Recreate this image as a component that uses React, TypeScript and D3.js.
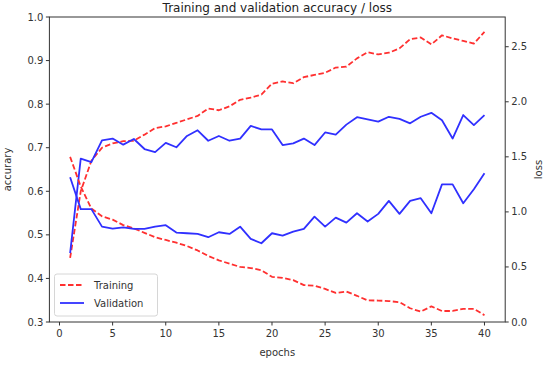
import React from 'react';
import * as d3 from 'd3';

const epochs = d3.range(1, 41);

const trainAcc = [0.447, 0.6, 0.67, 0.7, 0.71, 0.715, 0.716, 0.73, 0.745, 0.749,
  0.757, 0.765, 0.773, 0.79, 0.786, 0.795, 0.81, 0.815, 0.822, 0.847,
  0.852, 0.848, 0.862, 0.867, 0.872, 0.884, 0.886, 0.905, 0.919, 0.914,
  0.918, 0.928, 0.949, 0.953, 0.937, 0.958, 0.951, 0.945, 0.939, 0.966];

const valAcc = [0.458, 0.675, 0.667, 0.717, 0.721, 0.707, 0.72, 0.697, 0.69, 0.711,
  0.701, 0.727, 0.74, 0.716, 0.727, 0.716, 0.721, 0.75, 0.742, 0.742,
  0.706, 0.71, 0.721, 0.706, 0.735, 0.73, 0.753, 0.77, 0.765, 0.76,
  0.771, 0.766, 0.756, 0.771, 0.78, 0.763, 0.721, 0.775, 0.752, 0.775];

const trainLoss = [1.5, 1.23, 1.03, 0.96, 0.93, 0.88, 0.85, 0.81, 0.77, 0.745,
  0.72, 0.69, 0.65, 0.6, 0.56, 0.53, 0.5, 0.49, 0.47, 0.41,
  0.4, 0.38, 0.335, 0.33, 0.3, 0.264, 0.276, 0.238, 0.196, 0.195,
  0.19, 0.18, 0.125, 0.094, 0.142, 0.1, 0.1, 0.12, 0.12, 0.062];

const valLoss = [1.315, 1.025, 1.025, 0.866, 0.848, 0.86, 0.845, 0.845, 0.866, 0.879,
  0.812, 0.806, 0.8, 0.77, 0.815, 0.8, 0.866, 0.755, 0.715, 0.806,
  0.785, 0.82, 0.845, 0.957, 0.866, 0.948, 0.903, 0.988, 0.912, 0.982,
  1.1, 0.982, 1.1, 1.124, 0.988, 1.25, 1.25, 1.078, 1.206, 1.35];

const xTicks = [0, 5, 10, 15, 20, 25, 30, 35, 40];
const accTicks = [0.3, 0.4, 0.5, 0.6, 0.7, 0.8, 0.9, 1.0];
const lossTicks = [0, 0.5, 1.0, 1.5, 2.0, 2.5];

const RED = '#ff3030';
const BLUE = '#3030ff';
const FONT = 'DejaVu Sans, sans-serif';

const App: React.FC = () => {
  const W = 550, H = 365;
  const left = 49.4, right = 505.2, top = 17, bottom = 322;

  const x = d3.scaleLinear().domain([-0.95, 41.95]).range([left, right]);
  const yAcc = d3.scaleLinear().domain([0.3, 1.0]).range([bottom, top]);
  const yLoss = d3.scaleLinear().domain([0, 2.77]).range([bottom, top]);

  const lineAcc = d3.line<number>().x((_, i) => x(epochs[i])).y(d => yAcc(d));
  const lineLoss = d3.line<number>().x((_, i) => x(epochs[i])).y(d => yLoss(d));

  const series = [
    { d: lineAcc(trainAcc), c: RED, dash: '5.5,2.5' },
    { d: lineAcc(valAcc), c: BLUE, dash: null },
    { d: lineLoss(trainLoss), c: RED, dash: '5.5,2.5' },
    { d: lineLoss(valLoss), c: BLUE, dash: null },
  ];

  return (
    <svg width={W} height={H} style={{ position: 'absolute', left: 0, top: 0, background: '#fff' }}
      fontFamily={FONT}>
      <defs>
        <clipPath id="plot">
          <rect x={left} y={top} width={right - left} height={bottom - top} />
        </clipPath>
      </defs>

      <g clipPath="url(#plot)">
        {series.map((s, i) => (
          <path key={i} d={s.d || ''} fill="none" stroke={s.c} strokeWidth={1.8}
            strokeDasharray={s.dash || undefined} strokeLinejoin="round" />
        ))}
      </g>

      {/* frame */}
      <rect x={left} y={top} width={right - left} height={bottom - top} fill="none" stroke="#333" strokeWidth={1} />

      {/* x axis */}
      {xTicks.map(t => (
        <g key={'x' + t} transform={`translate(${x(t)},${bottom})`}>
          <line y2={3.5} stroke="#333" />
          <text y={15} textAnchor="middle" fontSize={10} fill="#333">{t}</text>
        </g>
      ))}
      <text x={(left + right) / 2} y={356} textAnchor="middle" fontSize={10} fill="#333">epochs</text>

      {/* left axis */}
      {accTicks.map(t => (
        <g key={'a' + t} transform={`translate(${left},${yAcc(t)})`}>
          <line x2={-3.5} stroke="#333" />
          <text x={-6} dy="0.35em" textAnchor="end" fontSize={10} fill="#333">{t.toFixed(1)}</text>
        </g>
      ))}
      <text transform={`translate(11,${(top + bottom) / 2}) rotate(-90)`} textAnchor="middle"
        fontSize={10} fill="#333">accurary</text>

      {/* right axis */}
      {lossTicks.map(t => (
        <g key={'l' + t} transform={`translate(${right},${yLoss(t)})`}>
          <line x2={3.5} stroke="#333" />
          <text x={6} dy="0.35em" textAnchor="start" fontSize={10} fill="#333">{t.toFixed(1)}</text>
        </g>
      ))}
      <text transform={`translate(542,${(top + bottom) / 2}) rotate(-90)`} textAnchor="middle"
        fontSize={10} fill="#333">loss</text>

      {/* title */}
      <text x={(left + right) / 2} y={12} textAnchor="middle" fontSize={12} fill="#222">
        Training and validation accuracy / loss
      </text>

      {/* legend */}
      <g>
        <rect x={54.5} y={274} width={103} height={42} rx={2.5} fill="#fff" fillOpacity={0.8}
          stroke="#d6d6d6" />
        <line x1={60} x2={84} y1={285} y2={285} stroke={RED} strokeWidth={1.8} strokeDasharray="5.5,2.5" />
        <text x={94} y={285} dy="0.35em" fontSize={10} fill="#333">Training</text>
        <line x1={60} x2={84} y1={303} y2={303} stroke={BLUE} strokeWidth={1.8} />
        <text x={94} y={303} dy="0.35em" fontSize={10} fill="#333">Validation</text>
      </g>
    </svg>
  );
};

export default App;
